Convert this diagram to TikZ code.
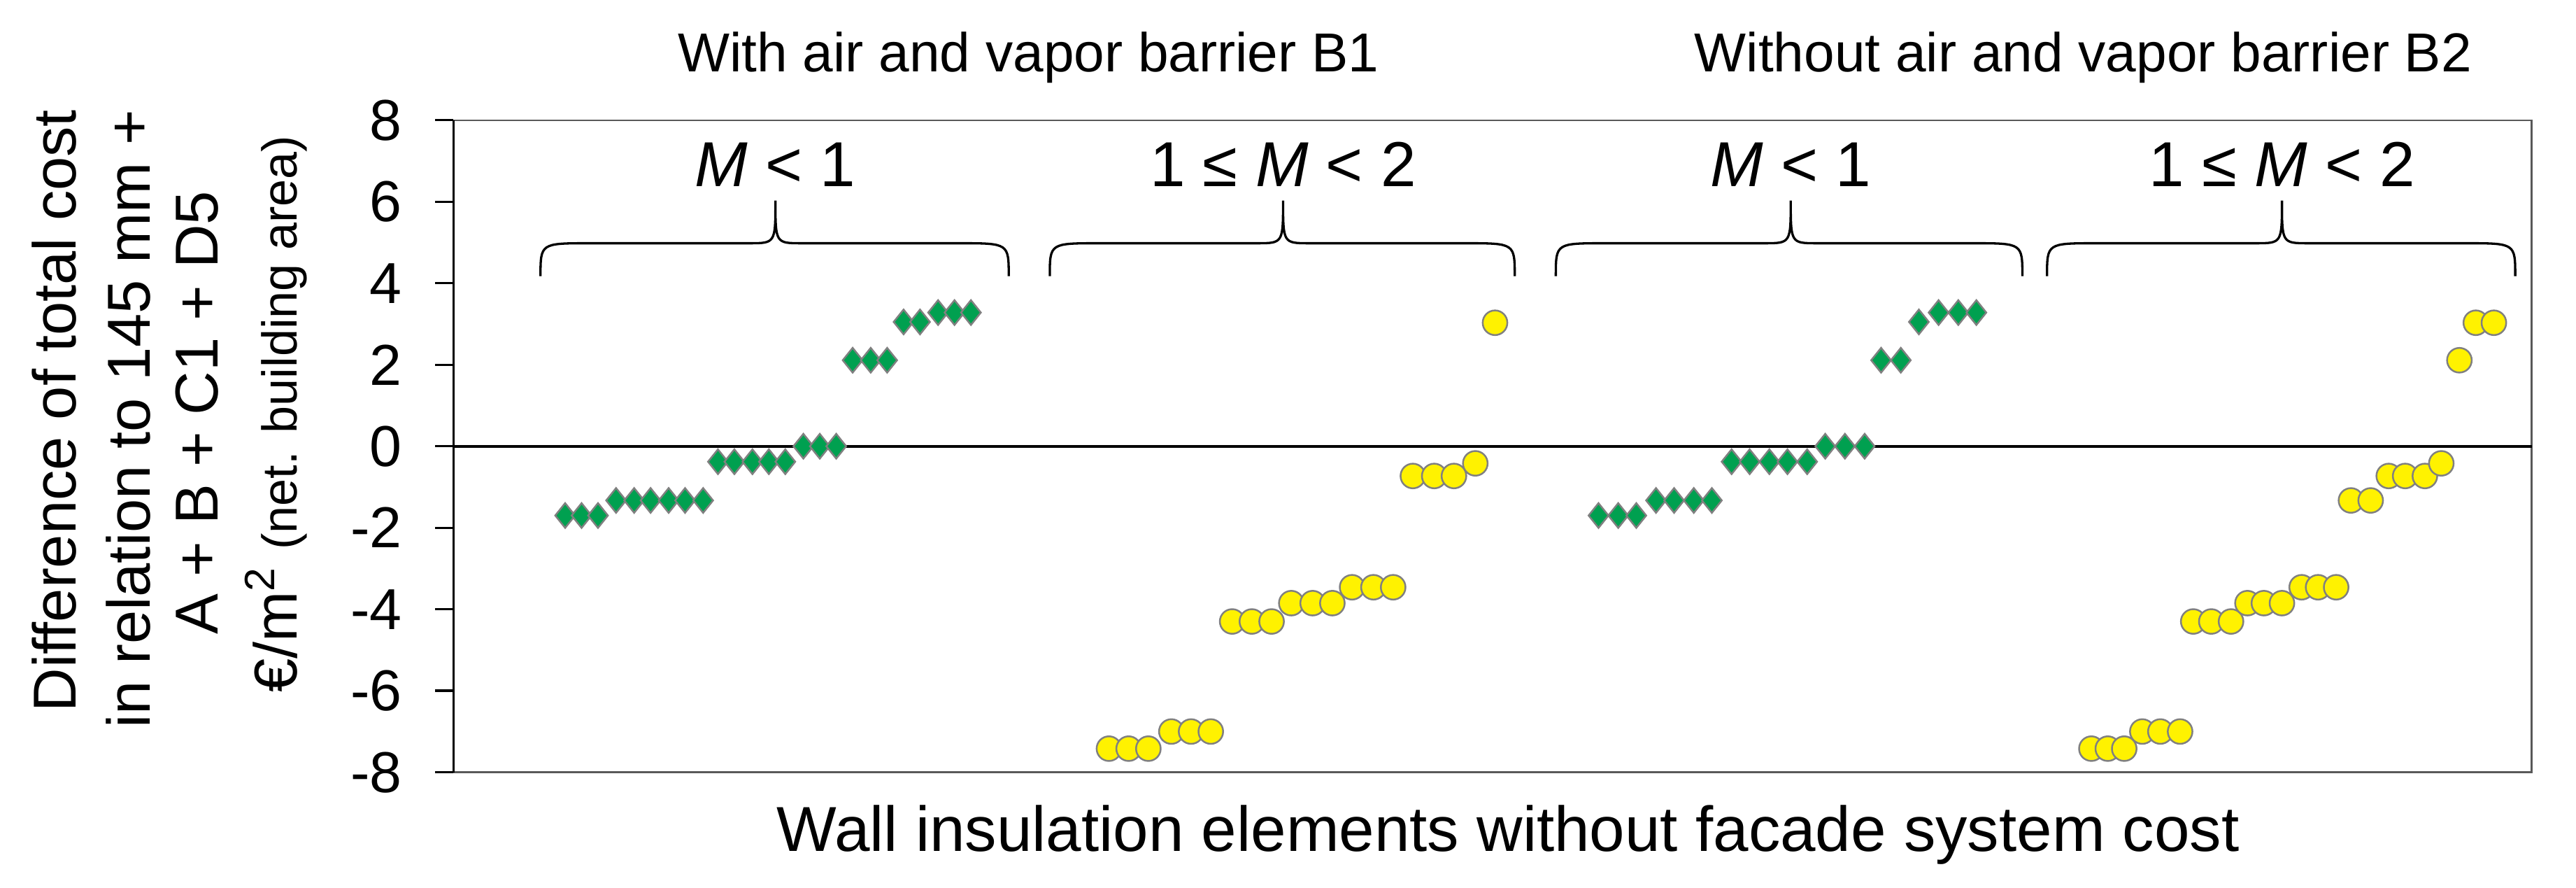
\documentclass[tikz,border=0pt]{standalone}
\usepackage{fontspec}
\setmainfont{Liberation Sans}
\usetikzlibrary{shapes.geometric}
\begin{document}
\begin{tikzpicture}[x=0.02cm,y=0.02cm,
  gd/.style={diamond,fill={rgb,255:red,0;green,160;blue,80},draw=gray,line width=0.6pt,minimum width=0.25cm,minimum height=0.31cm,inner sep=0pt},
  yc/.style={circle,fill=yellow,draw=gray,line width=0.6pt,minimum size=0.3cm,inner sep=0pt},
  tick/.style={anchor=east,font=\fontsize{20}{20}\selectfont,inner sep=0pt},
  grp/.style={font=\fontsize{22}{22}\selectfont},
  ttl/.style={font=\fontsize{19}{19}\selectfont},
  yl/.style={rotate=90,font=\fontsize{21}{21}\selectfont,inner sep=0pt},
  br/.style={line width=0.8pt}]
\useasboundingbox (0,0) rectangle (1568,540);
\newcommand\mybrace[3]{\draw[br] (#1,372) .. controls (#1,392) .. ({#1+30},392) -- ({#2-16},392) .. controls (#2,392) .. (#2,418) .. controls (#2,392) .. ({#2+16},392) -- ({#3-30},392) .. controls (#3,392) .. (#3,372);}
\begin{scope}[shift={(0,268.5)},y=0.496cm]
  \coordinate (bl) at (276,-8);
  \coordinate (tr) at (1541,8);
  \draw[gray!70!black,line width=0.6pt] (bl) rectangle (tr);
  \draw[line width=0.8pt] (bl) -- (276,8);
  \coordinate (z0) at (276,0);
  \coordinate (z1) at (1541,0);
  \draw[line width=1pt] (z0) -- (z1);
  \foreach \v in {-8,-6,...,8}{
    \draw[line width=0.8pt] (265,\v) -- (276,\v);
    \node[tick] (t\v) at (245,\v) {\v};
  }
  \foreach \x/\v [count=\i] in {344/-1.7,354/-1.7,364/-1.7,375/-1.33,386/-1.33,396/-1.33,407/-1.33,417/-1.33,428/-1.33,437/-0.38,447/-0.38,458/-0.38,468/-0.38,478/-0.38,489/0,499/0,509/0,519/2.11,530/2.11,540/2.11,550/3.05,560/3.05,571/3.28,581/3.28,591/3.28}
    \node[gd] (ga\i) at (\x,\v) {};
  \foreach \x/\v [count=\i] in {675/-7.42,687/-7.42,699/-7.42,713/-7.0,725/-7.0,737/-7.0,750/-4.3,762/-4.3,774/-4.3,786/-3.85,799/-3.85,811/-3.85,823/-3.46,836/-3.46,848/-3.46,860/-0.73,873/-0.73,885/-0.73,898/-0.42,910/3.03}
    \node[yc] (ya\i) at (\x,\v) {};
  \foreach \x/\v [count=\i] in {973/-1.7,985/-1.7,996/-1.7,1008/-1.33,1019/-1.33,1031/-1.33,1042/-1.33,1054/-0.38,1065/-0.38,1077/-0.38,1088/-0.38,1100/-0.38,1111/0,1123/0,1135/0,1145/2.11,1157/2.11,1168/3.05,1180/3.28,1192/3.28,1203/3.28}
    \node[gd] (gb\i) at (\x,\v) {};
  \foreach \x/\v [count=\i] in {1273/-7.42,1283/-7.42,1293/-7.42,1304/-7.0,1315/-7.0,1327/-7.0,1335/-4.3,1346/-4.3,1358/-4.3,1368/-3.85,1378/-3.85,1389/-3.85,1401/-3.46,1411/-3.46,1422/-3.46,1431/-1.33,1443/-1.33,1454/-0.73,1464/-0.73,1476/-0.73,1486/-0.42,1497/2.11,1507/3.03,1518/3.03}
    \node[yc] (yb\i) at (\x,\v) {};
\end{scope}
\mybrace{329}{472}{614}
\mybrace{639}{781}{922}
\mybrace{947}{1090}{1231}
\mybrace{1246}{1389}{1531}
\node[grp] (m1) at (472,440) {\textit{M} < 1};
\node[grp] (m2) at (781,440) {1 ≤ \textit{M} < 2};
\node[grp] (m3) at (1090,440) {\textit{M} < 1};
\node[grp] (m4) at (1389,440) {1 ≤ \textit{M} < 2};
\node[ttl] (h1) at (626,505) {With air and vapor barrier B1};
\node[ttl] (h2) at (1268,505) {Without air and vapor barrier B2};
\node[font=\fontsize{22}{22}\selectfont] (xl) at (918,32) {Wall insulation elements without facade system cost};
\node[yl] (y1) at (33,290) {Difference of total cost};
\node[yl] (y2) at (78,285) {in relation to 145 mm +};
\node[yl] (y3) at (120,289) {A + B + C1 + D5};
\node[yl] (y4) at (168,288) {€/m\textsuperscript{2} {\fontsize{17}{17}\selectfont(net. building area)}};
\end{tikzpicture}
\end{document}
